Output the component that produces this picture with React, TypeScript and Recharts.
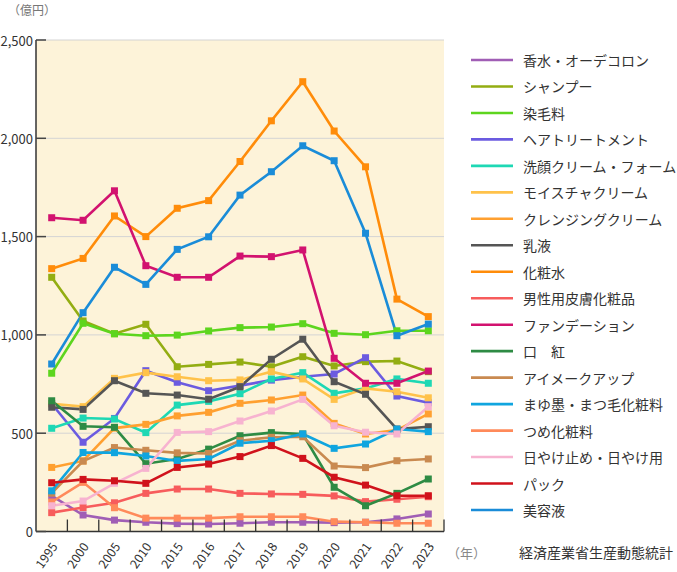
import React from 'react';
import { LineChart, Line, XAxis, YAxis, CartesianGrid } from 'recharts';

const categories = ['1995', '2000', '2005', '2010', '2015', '2016', '2017', '2018', '2019', '2020', '2021', '2022', '2023'];

const kousui = [181, 84, 58, 47, 40, 38, 42, 47, 47, 45, 47, 64, 89];
const shampoo = [1293, 1071, 1006, 1054, 838, 850, 862, 838, 889, 842, 864, 867, 813];
const senmou = [805, 1059, 1006, 996, 999, 1020, 1037, 1040, 1057, 1008, 1001, 1021, 1021];
const hairTreatment = [650, 454, 575, 818, 759, 716, 742, 770, 787, 801, 884, 689, 655];
const senganCream = [525, 577, 572, 503, 643, 662, 701, 776, 808, 703, 728, 776, 754];
const moisture = [650, 635, 779, 808, 787, 767, 771, 813, 776, 672, 728, 711, 680];
const cleansing = [326, 359, 526, 545, 588, 606, 652, 669, 694, 550, 496, 516, 598];
const nyueki = [632, 621, 767, 703, 694, 673, 736, 876, 978, 762, 698, 521, 533];
const keshousui = [1337, 1389, 1605, 1500, 1644, 1683, 1882, 2089, 2288, 2037, 1855, 1182, 1093];
const mens = [96, 122, 146, 194, 216, 216, 194, 191, 189, 181, 152, 164, 177];
const foundation = [1596, 1583, 1733, 1352, 1293, 1293, 1401, 1398, 1432, 881, 754, 754, 816];
const kuchibeni = [665, 535, 530, 345, 369, 419, 487, 503, 496, 225, 131, 194, 267];
const eyeMakeup = [195, 358, 427, 413, 400, 397, 462, 479, 482, 333, 325, 360, 369];
const mayuzumi = [207, 402, 401, 384, 359, 369, 449, 462, 496, 423, 445, 521, 508];
const tsume = [150, 250, 121, 68, 68, 68, 75, 75, 75, 50, 47, 42, 42];
const hiyake = [131, 155, 245, 321, 504, 508, 562, 613, 672, 538, 505, 496, 635];
const pack = [248, 265, 258, 245, 326, 343, 381, 437, 372, 276, 236, 182, 182];
const biyoueki = [852, 1113, 1344, 1257, 1435, 1499, 1711, 1830, 1962, 1886, 1517, 996, 1055];

const yTicks = [0, 500, 1000, 1500, 2000, 2500];

const series = [
  { key: 's0', name: '香水・オーデコロン', values: kousui, color: '#A05EB5' },
  { key: 's1', name: 'シャンプー', values: shampoo, color: '#93AD12' },
  { key: 's2', name: '染毛料', values: senmou, color: '#5DD51E' },
  { key: 's3', name: 'ヘアトリートメント', values: hairTreatment, color: '#6B5BE0' },
  { key: 's4', name: '洗顔クリーム・フォーム', values: senganCream, color: '#1ED8B4' },
  { key: 's5', name: 'モイスチャクリーム', values: moisture, color: '#FFC24A' },
  { key: 's6', name: 'クレンジングクリーム', values: cleansing, color: '#FFA030' },
  { key: 's7', name: '乳液', values: nyueki, color: '#555555' },
  { key: 's8', name: '化粧水', values: keshousui, color: '#FF8C0A' },
  { key: 's9', name: '男性用皮膚化粧品', values: mens, color: '#F75C5C' },
  { key: 's10', name: 'ファンデーション', values: foundation, color: '#D2126F' },
  { key: 's11', name: '口　紅', values: kuchibeni, color: '#2E8B44' },
  { key: 's12', name: 'アイメークアップ', values: eyeMakeup, color: '#C98A50' },
  { key: 's13', name: 'まゆ墨・まつ毛化粧料', values: mayuzumi, color: '#10A5DF' },
  { key: 's14', name: 'つめ化粧料', values: tsume, color: '#FF8A5A' },
  { key: 's15', name: '日やけ止め・日やけ用', values: hiyake, color: '#F7B3D0' },
  { key: 's16', name: 'パック', values: pack, color: '#D0121B' },
  { key: 's17', name: '美容液', values: biyoueki, color: '#1A8CD8' },
];

const data = categories.map((c, i) => {
  const row: Record<string, any> = { year: c };
  series.forEach((s) => {
    row[s.key] = s.values[i];
  });
  return row;
});

const W = 677;
const H = 572;
const M_TOP = 40;
const M_RIGHT = 233;
const Y_W = 36;
const X_H = 40.5;
const PLOT_W = W - M_RIGHT - Y_W;
const HALF_BAND = PLOT_W / categories.length / 2;
const FONT = '"Noto Sans CJK JP", "Noto Sans", sans-serif';

const XTick = (props: any) => {
  const { x, y, payload } = props;
  const ax = x + 2;
  const ay = y + 12;
  return (
    <g>
      <line x1={x + HALF_BAND} x2={x + HALF_BAND} y1={y} y2={y - 12} stroke="#333" strokeWidth={1.3} />
      <text
        x={ax}
        y={ay}
        transform={`rotate(-55, ${ax}, ${ay})`}
        textAnchor="end"
        dominantBaseline="central"
        fontSize={12.5}
        fill="#333"
        fontFamily={FONT}
      >
        {payload.value}
      </text>
    </g>
  );
};

const YTick = (props: any) => {
  const { x, y, payload } = props;
  return (
    <g>
      <line x1={x} x2={x + 10} y1={y} y2={y} stroke="#444" strokeWidth={1.5} />
      <text x={x - 3} y={y} textAnchor="end" dominantBaseline="central" fontSize={13} fill="#333" fontFamily={FONT}>
        {payload.value.toLocaleString('en-US')}
      </text>
    </g>
  );
};

const makeDot = (color: string) => (p: any) => {
  const { cx, cy, index } = p;
  if (cx == null || cy == null) return <g key={`d${index}`} />;
  return <rect key={`d${index}`} x={cx - 3.5} y={cy - 3.5} width={7} height={7} fill={color} />;
};

const LEG_Y0 = 60;
const LEG_STEP = 26.47;

export default function App() {
  return (
    <div style={{ position: 'absolute', left: 0, top: 0, width: W, height: H, fontFamily: FONT }}>
      <LineChart width={W} height={H} data={data} margin={{ top: M_TOP, right: M_RIGHT, bottom: 0, left: 0 }}>
        <CartesianGrid vertical={false} stroke="#d4d4d4" fill="#FDF3D9" />
        <XAxis
          dataKey="year"
          height={X_H}
          padding={{ left: HALF_BAND, right: HALF_BAND }}
          tickSize={0}
          tickMargin={0}
          tickLine={false}
          axisLine={{ stroke: '#333', strokeWidth: 1.5 }}
          tick={<XTick />}
          interval={0}
        />
        <YAxis
          width={Y_W}
          domain={[0, 2500]}
          ticks={yTicks}
          tickSize={0}
          tickMargin={0}
          tickLine={false}
          axisLine={{ stroke: '#333', strokeWidth: 1.5 }}
          tick={<YTick />}
          interval={0}
        />
        {series.map((s) => (
          <Line
            key={s.key}
            dataKey={s.key}
            name={s.name}
            stroke={s.color}
            strokeWidth={2.6}
            dot={makeDot(s.color)}
            activeDot={false}
            isAnimationActive={false}
            type="linear"
          />
        ))}
      </LineChart>
      <svg
        width={W}
        height={H}
        style={{ position: 'absolute', left: 0, top: 0, pointerEvents: 'none' }}
      >
        <text x={8} y={9} dominantBaseline="central" fontSize={12} fill="#777" fontFamily={FONT}>
          （億円）
        </text>
        <text x={447} y={552} dominantBaseline="central" fontSize={13} fill="#888" fontFamily={FONT}>
          （年）
        </text>
        <text x={519} y={552} dominantBaseline="central" fontSize={14} fill="#333" fontFamily={FONT}>
          経済産業省生産動態統計
        </text>
        {series.map((s, i) => {
          const y = LEG_Y0 + i * LEG_STEP;
          return (
            <g key={s.key}>
              <line x1={471} x2={513} y1={y} y2={y} stroke={s.color} strokeWidth={2.6} />
              <text x={523} y={y} dominantBaseline="central" fontSize={14} fill="#333" fontFamily={FONT}>
                {s.name}
              </text>
            </g>
          );
        })}
      </svg>
    </div>
  );
}
